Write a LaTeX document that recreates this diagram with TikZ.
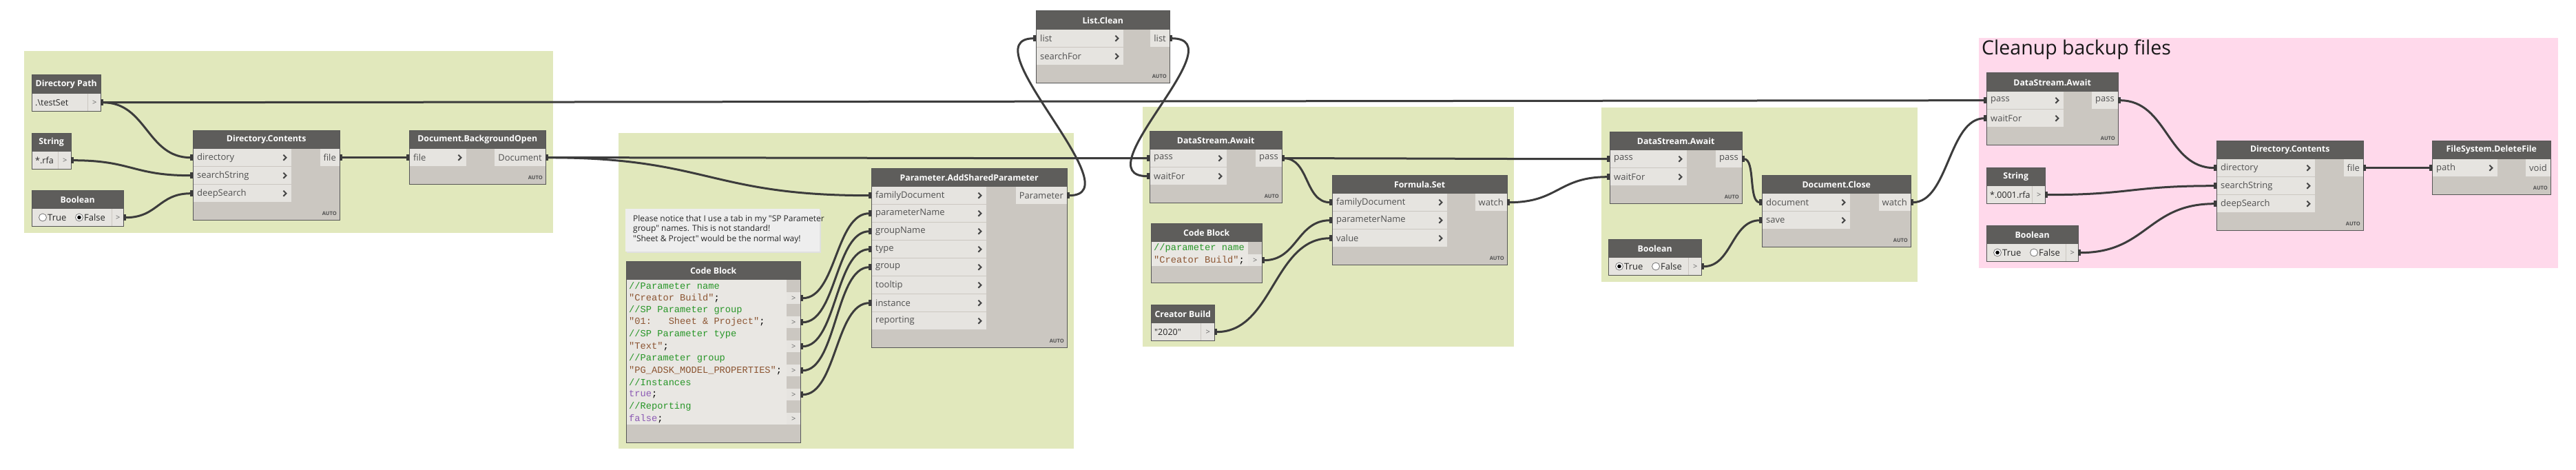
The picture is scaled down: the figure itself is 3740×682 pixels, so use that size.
\documentclass[tikz,border=0pt]{standalone}
\usepackage{fontspec}
\setmainfont{Open Sans}[Ligatures=TeXOff]
\setmonofont{Liberation Mono}
\usetikzlibrary{arrows.meta}
\definecolor{grp}{RGB}{225,232,188}
\definecolor{grppink}{RGB}{255,217,235}
\definecolor{hdr}{RGB}{94,93,91}
\definecolor{rowc}{RGB}{230,228,224}
\definecolor{bodyc}{RGB}{203,199,193}
\definecolor{brd}{RGB}{85,85,85}
\definecolor{lbl}{RGB}{80,80,80}
\definecolor{wirec}{RGB}{60,60,60}
\definecolor{cgreen}{RGB}{40,150,40}
\definecolor{cbrown}{RGB}{140,85,50}
\definecolor{cpurple}{RGB}{140,90,180}
\definecolor{codebg}{RGB}{233,231,227}
\definecolor{notebg}{RGB}{238,238,238}
\tikzset{
 grpbox/.style={fill=#1, draw=none, inner sep=0pt, anchor=north west},
 nodebody/.style={fill=bodyc, draw=none, inner sep=0pt, anchor=north west},
 hdrbox/.style={fill=hdr, inner sep=0pt, anchor=north west, minimum height=27pt, text=white, font=\fontsize{12.3}{14}\selectfont\bfseries},
 inrow/.style={fill=rowc, inner sep=0pt, anchor=north west, minimum height=25pt},
 outrow/.style={fill=rowc, inner xsep=5pt, inner ysep=0pt, anchor=north east, minimum height=25pt, text=lbl, font=\fontsize{13}{15}\selectfont},
 lbltext/.style={anchor=west, inner sep=0pt, text=lbl, font=\fontsize{13}{15}\selectfont},
 valtext/.style={anchor=west, inner sep=0pt, text=black!85, font=\fontsize{12.5}{15}\selectfont},
 porttext/.style={inner sep=0pt, text=black!60, font=\fontsize{11}{12}\selectfont},
 autotext/.style={anchor=south east, inner sep=0pt, text=lbl, font=\fontsize{7.5}{8}\selectfont\bfseries},
 codetext/.style={anchor=west, inner sep=0pt, font=\fontsize{13.7}{17.5}\ttfamily},
 chev/.style={draw=black!72, line width=2pt},
 border/.style={draw=brd, line width=1pt},
 wire/.style={draw=wirec, line width=3pt, arrows={Rectangle[length=4pt,width=9pt]-Rectangle[length=4pt,width=9pt]}},
}
% wire from output node #2 to input node #3, control offset #1
\newcommand\wire[3][60]{\draw[wire] (#2.east) .. controls +(#1,0) and +(-#1,0) .. (#3.west);}
% generic Dynamo node
\newcommand\dyn[8]{%
  \foreach \lab [count=\ii] in {#7}{\xdef\dynrows{\ii}}%
  \pgfmathsetmacro\dynH{27+26*\dynrows+25}%
  \node[nodebody, minimum width=#4pt, minimum height=\dynH pt] (#1) at (#2,#3) {};
  \node[hdrbox, minimum width=#4pt] (#1-h) at (#2,#3) {#5};
  \foreach \lab [count=\ii] in {#7}{%
    \node[inrow, minimum width=#6pt] (#1-i\ii) at (#2,{#3+27+26*(\ii-1)}) {};
    \node[lbltext] at ([xshift=6pt]#1-i\ii.west) {\lab};
    \draw[chev] ([xshift=-12pt,yshift=4pt]#1-i\ii.east) -- ++(4,4) -- ++(-4,4);
  }
  \foreach \lab [count=\ii] in {#8}{%
    \node[outrow] (#1-o\ii) at ({#2+#4},{#3+27+26*(\ii-1)}) {\lab};
  }
  \node[autotext] at ({#2+#4-4},{#3+\dynH-6}) {AUTO};
  \draw[border] (#1.north west) rectangle (#1.south east);
}
% input (value) node
\newcommand\valnode[7]{%
  \node[nodebody, minimum width=#4pt, minimum height=52pt] (#1) at (#2,#3) {};
  \node[hdrbox, minimum width=#4pt] (#1-h) at (#2,#3) {#5};
  \node[inrow, minimum width=#6pt] (#1-v) at (#2,{#3+27}) {};
  \node[inrow, minimum width={(#4-#6-1)*1pt}] (#1-o1) at ({#2+#6+1},{#3+27}) {};
  \node[valtext] at ([xshift=5pt]#1-v.west) {#7};
  \node[porttext] at (#1-o1) {>};
  \draw[border] (#1.north west) rectangle (#1.south east);
}
\newcommand\radio[3]{%
  \draw[fill=white, draw=black!55, line width=0.8pt] (#1,#2) circle (5.5pt);
  \ifnum#3=1 \fill[black] (#1,#2) circle (2.8pt);\fi
}
\newcommand\bools[3]{% x, y (top of node), which selected: 1 true, 0 false
  \radio{#1+16}{#2+39.5}{#3}
  \pgfmathtruncatemacro\notsel{1-#3}
  \radio{#1+69}{#2+39.5}{\notsel}
  \node[valtext, font=\fontsize{13}{15}\selectfont] (t-#1) at (#1+23,#2+40) {True};
  \node[valtext, font=\fontsize{13}{15}\selectfont] (f-#1) at (#1+76,#2+40) {False};
}
\begin{document}
\begin{tikzpicture}[x=1pt,y=-1pt]
\useasboundingbox (0,0) rectangle (3740,682);
\fill[white] (0,0) rectangle (3740,682);
% groups
\node[grpbox=grp, minimum width=768pt, minimum height=264pt] (g1) at (35,74) {};
\node[grpbox=grp, minimum width=661pt, minimum height=458pt] (g2) at (898,193) {};
\node[grpbox=grp, minimum width=539pt, minimum height=348pt] (g3) at (1659,155) {};
\node[grpbox=grp, minimum width=459pt, minimum height=253pt] (g4) at (2325,156) {};
\node[grpbox=grppink, minimum width=841pt, minimum height=334pt] (g5) at (2873,55) {};
\node[anchor=west, inner sep=0pt, text=black!90, font=\fontsize{28.5}{31}\selectfont] (title) at (2877,72) {Cleanup backup files};

% value nodes
\valnode{dp}{46}{109}{100}{Directory Path}{81}{.\textbackslash testSet}
\valnode{s1}{46}{193}{57}{String}{38}{*.rfa}
\valnode{b1}{46}{276}{133}{Boolean}{116}{}
\bools{46}{276}{0}
\valnode{cbld}{1671}{442}{92}{Creator Build}{72}{"2020"}
\valnode{b2}{2335}{347}{135}{Boolean}{116}{}
\bools{2335}{347}{1}
\valnode{s2}{2884}{243}{85}{String}{66}{*.0001.rfa}
\valnode{b3}{2884}{327}{133}{Boolean}{115}{}
\bools{2884}{327}{1}

% function nodes
\dyn{dc1}{280}{189}{213}{Directory.Contents}{143}{directory,searchString,deepSearch}{file}
\dyn{dbo}{594}{189}{198}{Document.BackgroundOpen}{83}{file}{Document}
\dyn{pa}{1265}{244}{284}{Parameter.AddSharedParameter}{167}{familyDocument,parameterName,groupName,type,group,tooltip,instance,reporting}{Parameter}
\dyn{lc}{1504}{16}{194}{List.Clean}{127}{list,searchFor}{list}
\dyn{ds1}{1669}{190}{192}{DataStream.Await}{112}{pass,waitFor}{pass}
\dyn{fs}{1934}{254}{254}{Formula.Set}{167}{familyDocument,parameterName,value}{watch}
\dyn{ds2}{2337}{191}{192}{DataStream.Await}{112}{pass,waitFor}{pass}
\dyn{dcl}{2558}{254}{216}{Document.Close}{128}{document,save}{watch}
\dyn{ds3}{2884}{106}{191}{DataStream.Await}{112}{pass,waitFor}{pass}
\dyn{dc2}{3218}{204}{213}{Directory.Contents}{143}{directory,searchString,deepSearch}{file}
\dyn{df}{3531}{204}{172}{FileSystem.DeleteFile}{95}{path}{void}

% note
\fill[black!12] (910,305) rectangle (1192,367);
\node[nodebody, fill=notebg, minimum width=282pt, minimum height=62pt] (note) at (908,303) {};
\node[anchor=north west, inner sep=0pt, align=left, text=black!85, font=\fontsize{12}{14.5}\selectfont] (note-t) at (919,312) {Please notice that I use a tab in my "SP Parameter\\group" names. This is not standard!\\"Sheet \& Project" would be the normal way!};

% code block 1
\node[nodebody, minimum width=253pt, minimum height=263pt] (cb1) at (909,379) {};
\node[hdrbox, minimum width=253pt] (cb1-h) at (909,379) {Code Block};
\fill[codebg] (909,406) rectangle (1142,616);
\foreach \txt [count=\k] in {
 {\textcolor{cgreen}{//Parameter name}},
 {\textcolor{cbrown}{"Creator Build"};},
 {\textcolor{cgreen}{//SP Parameter group}},
 {\textcolor{cbrown}{"01:\phantom{000}Sheet \& Project"};},
 {\textcolor{cgreen}{//SP Parameter type}},
 {\textcolor{cbrown}{"Text"};},
 {\textcolor{cgreen}{//Parameter group}},
 {\textcolor{cbrown}{"PG\_ADSK\_MODEL\_PROPERTIES"};},
 {\textcolor{cgreen}{//Instances}},
 {\textcolor{cpurple}{true};},
 {\textcolor{cgreen}{//Reporting}},
 {\textcolor{cpurple}{false};}}{
  \node[codetext] (cb1-l\k) at (913,{406+17.5*(\k-0.5)}) {\txt};
}
\foreach \k in {2,4,6,8,10,12}{
  \node[inrow, minimum width=20pt, minimum height=17pt] (cb1-o\k) at (1142,{406+17.5*(\k-1)+0.5}) {};
  \node[porttext] at (cb1-o\k) {>};
}
\draw[border] (cb1.north west) rectangle (cb1.south east);

% code block 2
\node[nodebody, minimum width=161pt, minimum height=86pt] (cb2) at (1671,324) {};
\node[hdrbox, minimum width=161pt] (cb2-h) at (1671,324) {Code Block};
\fill[codebg] (1671,351) rectangle (1812,386);
\node[codetext] (cb2-l1) at (1675,359.75) {\textcolor{cgreen}{//parameter name}};
\node[codetext] (cb2-l2) at (1675,377.25) {\textcolor{cbrown}{"Creator Build"};};
\node[inrow, minimum width=20pt, minimum height=17pt] (cb2-o2) at (1812,369) {};
\node[porttext] at (cb2-o2) {>};
\draw[border] (cb2.north west) rectangle (cb2.south east);

% wires
\wire[67]{dp-o1}{dc1-i1}
\wire[200]{dp-o1}{ds3-i1}
\wire[88]{s1-o1}{dc1-i2}
\wire[50]{b1-o1}{dc1-i3}
\wire[50]{dc1-o1}{dbo-i1}
\wire[236]{dbo-o1}{pa-i1}
\wire[300]{dbo-o1}{ds1-i1}
\wire[100]{pa-o1}{lc-i1}
\wire[100]{lc-o1}{ds1-i2}
\wire[52]{cb1-o2}{pa-i2}
\wire[52]{cb1-o4}{pa-i3}
\wire[52]{cb1-o6}{pa-i4}
\wire[52]{cb1-o8}{pa-i5}
\wire[52]{cb1-o10}{pa-i7}
\wire[200]{ds1-o1}{ds2-i1}
\wire[40]{ds1-o1}{fs-i1}
\wire[51]{cb2-o2}{fs-i2}
\wire[85]{cbld-o1}{fs-i3}
\wire[75]{fs-o1}{ds2-i2}
\wire[20]{ds2-o1}{dcl-i1}
\wire[44]{b2-o1}{dcl-i2}
\wire[55]{dcl-o1}{ds3-i2}
\wire[72]{ds3-o1}{dc2-i1}
\wire[125]{s2-o1}{dc2-i2}
\wire[100]{b3-o1}{dc2-i3}
\wire[50]{dc2-o1}{df-i1}
\end{tikzpicture}
\end{document}
